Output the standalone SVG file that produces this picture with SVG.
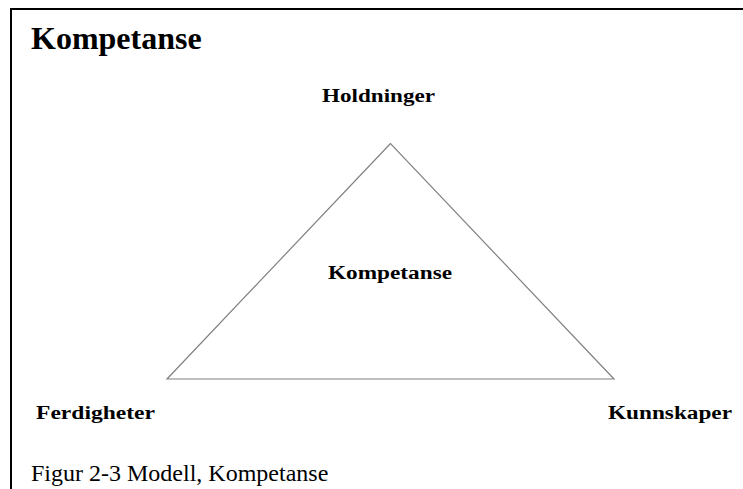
<svg xmlns="http://www.w3.org/2000/svg" width="743" height="489" viewBox="0 0 743 489">
<style>
.lbl{font-family:"Liberation Serif","Times New Roman",serif;font-weight:bold;font-size:18px;fill:#000}
.frame{stroke:#000;stroke-width:2;fill:none}
.tri{stroke:#808080;stroke-width:1.2;fill:none}
</style>
<rect width="743" height="489" fill="#fff"/>
<g id="frame">
<path class="frame" d="M11,489 V9 H743"/>
</g>
<text x="31" y="49" font-family="Liberation Serif,'Times New Roman',serif" font-weight="bold" font-size="32">Kompetanse</text>
<g id="connectors">
<polygon class="tri" points="390.5,143.5 167,379 614,379"/>
</g>
<g id="node-holdninger"><text class="lbl" x="322" y="102" textLength="113" lengthAdjust="spacingAndGlyphs">Holdninger</text></g>
<g id="node-kompetanse"><text class="lbl" x="328" y="279" textLength="124" lengthAdjust="spacingAndGlyphs">Kompetanse</text></g>
<g id="node-ferdigheter"><text class="lbl" x="36" y="419" textLength="119" lengthAdjust="spacingAndGlyphs">Ferdigheter</text></g>
<g id="node-kunnskaper"><text class="lbl" x="608" y="419" textLength="124" lengthAdjust="spacingAndGlyphs">Kunnskaper</text></g>
<text x="31" y="481" font-family="Liberation Serif,'Times New Roman',serif" font-size="24">Figur 2-3 Modell, Kompetanse</text>
</svg>
